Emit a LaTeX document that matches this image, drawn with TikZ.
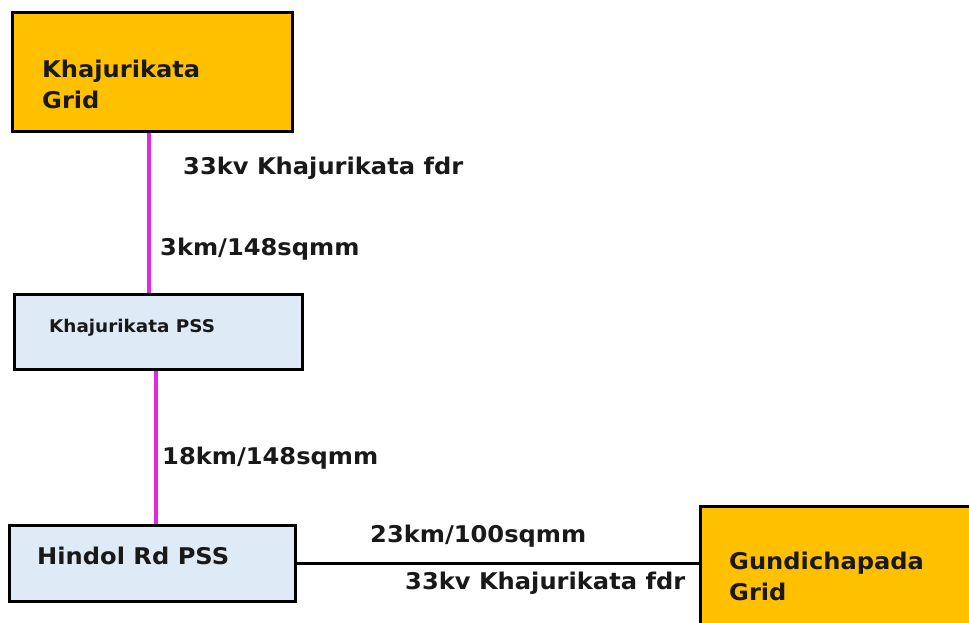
\documentclass[tikz,border=0pt]{standalone}
\usepackage{fontspec}
\setmainfont{DejaVu Sans}[FakeStretch=1.05]
\usetikzlibrary{calc}
\definecolor{gridorange}{RGB}{255,192,0}
\definecolor{pssblue}{RGB}{222,235,247}
\definecolor{feedmag}{RGB}{226,40,226}
\tikzset{
  gridbox/.style={draw=black, line width=3.5pt, fill=gridorange, rectangle, inner sep=0pt},
  pssbox/.style={draw=black, line width=3.5pt, fill=pssblue, rectangle, inner sep=0pt},
  lbl/.style={inner sep=0pt, anchor=west, align=left, text=black!90,
    font=\bfseries\fontsize{23}{31}\selectfont},
  smalllbl/.style={inner sep=0pt, anchor=west, text=black!90,
    font=\bfseries\fontsize{17.5}{20}\selectfont},
  magline/.style={draw=feedmag, line width=4pt},
  blkline/.style={draw=black, line width=3pt}
}
\begin{document}
\begin{tikzpicture}[x=1pt, y=-1pt]
\useasboundingbox (0,0) rectangle (969,622);
\fill[white] (0,0) rectangle (969,622);
% boxes
\node[gridbox, minimum width=280pt, minimum height=119pt] (kg) at (152.5,72) {};
\node[pssbox, minimum width=288pt, minimum height=75pt] (kp) at (158.5,332) {};
\node[pssbox, minimum width=286pt, minimum height=76pt] (hr) at (152.5,563.5) {};
\node[gridbox, minimum width=320pt, minimum height=160pt, anchor=north west] (gp) at (698.5,504.5) {};
% box texts
\node[lbl] (kgt) at (42,84) {Khajurikata\\Grid};
\node[smalllbl] (kpt) at (49,328) {Khajurikata PSS};
\node[lbl] (hrt) at (37,556) {Hindol Rd PSS};
\node[lbl] (gpt) at (729,576) {Gundichapada\\Grid};
% connectors
\draw[magline] (kg.south -| 149,0) -- (kp.north -| 149,0);
\draw[magline] (kp.south -| 156,0) -- (hr.north -| 156,0);
\draw[blkline] (hr.east |- 0,563) -- (gp.west |- 0,563);
% connector labels
\node[lbl] (l1) at (183,168) {33kv Khajurikata fdr};
\node[lbl] (l2) at (160,249) {3km/148sqmm};
\node[lbl] (l3) at (162,458) {18km/148sqmm};
\node[lbl] (l4) at (370,536) {23km/100sqmm};
\node[lbl] (l5) at (405,583) {33kv Khajurikata fdr};
\end{tikzpicture}
\end{document}
